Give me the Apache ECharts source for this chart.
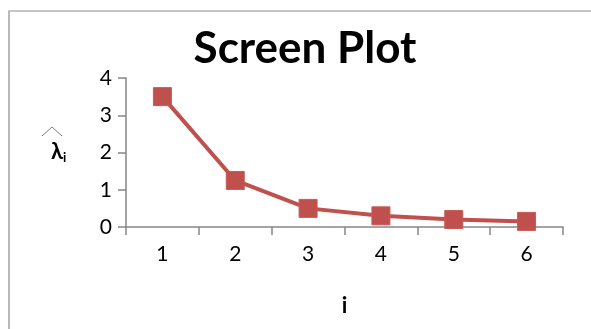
<!DOCTYPE html>
<html>
<head>
<meta charset="utf-8">
<script src="https://cdn.jsdelivr.net/npm/echarts@6/dist/echarts.min.js"></script>
<style>
  html, body { margin: 0; padding: 0; background: #fff; }
  #chart { width: 591px; height: 329px; }
</style>
</head>
<body>
<div id="chart"></div>
<script>
// Component index and estimated eigenvalue for the scree plot
const components = ['1', '2', '3', '4', '5', '6'];
const eigenvalues = [3.5, 1.25, 0.5, 0.3, 0.2, 0.15];
const yTicks = [0, 1, 2, 3, 4];

const chart = echarts.init(document.getElementById('chart'), null, { renderer: 'canvas' });
const font = 'Lato, "Open Sans", sans-serif';
const axisGray = '#868686';

chart.setOption({
  animation: false,
  backgroundColor: '#fff',
  title: {
    text: 'Screen Plot',
    left: 300,
    textAlign: 'center',
    top: 22,
    textStyle: { fontFamily: font, fontWeight: 'bold', fontSize: 44, color: '#000' }
  },
  grid: { left: 126, right: 28, top: 78, bottom: 102 },
  xAxis: {
    type: 'category',
    data: components,
    boundaryGap: true,
    name: 'i',
    nameLocation: 'middle',
    nameGap: 68,
    nameTextStyle: { fontFamily: font, fontWeight: 'bold', fontSize: 22, color: '#000' },
    axisLine: { lineStyle: { color: axisGray, width: 1.5 } },
    axisTick: { show: true, alignWithLabel: false, length: 8, lineStyle: { color: axisGray, width: 1.5 } },
    axisLabel: { fontFamily: font, fontSize: 21, color: '#000', margin: 17 },
    splitLine: { show: false }
  },
  yAxis: {
    type: 'value',
    min: yTicks[0],
    max: yTicks[yTicks.length - 1],
    interval: 1,
    axisLine: { show: true, lineStyle: { color: axisGray, width: 1.5 } },
    axisTick: { show: true, inside: false, length: 8, lineStyle: { color: axisGray, width: 1.5 } },
    axisLabel: { fontFamily: font, fontSize: 21, color: '#000', margin: 14 },
    splitLine: { show: false }
  },
  series: [{
    type: 'line',
    data: eigenvalues,
    symbol: 'rect',
    symbolSize: 18,
    lineStyle: { color: '#C0504D', width: 4 },
    itemStyle: { color: '#C0504D', borderColor: '#C65A57', borderWidth: 1 },
    z: 3
  }],
  graphic: [
    // chart-area frame
    {
      type: 'rect',
      shape: { x: 9, y: 11, width: 700, height: 400 },
      style: { fill: null, stroke: '#8c8c8c', lineWidth: 1.2 },
      silent: true, z: -1
    },
    // y-axis title: lambda-hat with subscript i
    {
      type: 'text',
      left: 51,
      top: 141,
      style: {
        text: '{l|λ}{s|i}',
        rich: {
          l: { fontFamily: font, fontWeight: 'bold', fontSize: 22, color: '#000' },
          s: { fontFamily: font, fontWeight: 'bold', fontSize: 13, color: '#000', padding: [12, 0, 0, 0] }
        }
      }
    },
    {
      type: 'polyline',
      shape: { points: [[42, 136], [52, 127], [62, 136]] },
      style: { stroke: '#7f7f7f', lineWidth: 1, fill: null },
      silent: true
    }
  ]
});
</script>
</body>
</html>
